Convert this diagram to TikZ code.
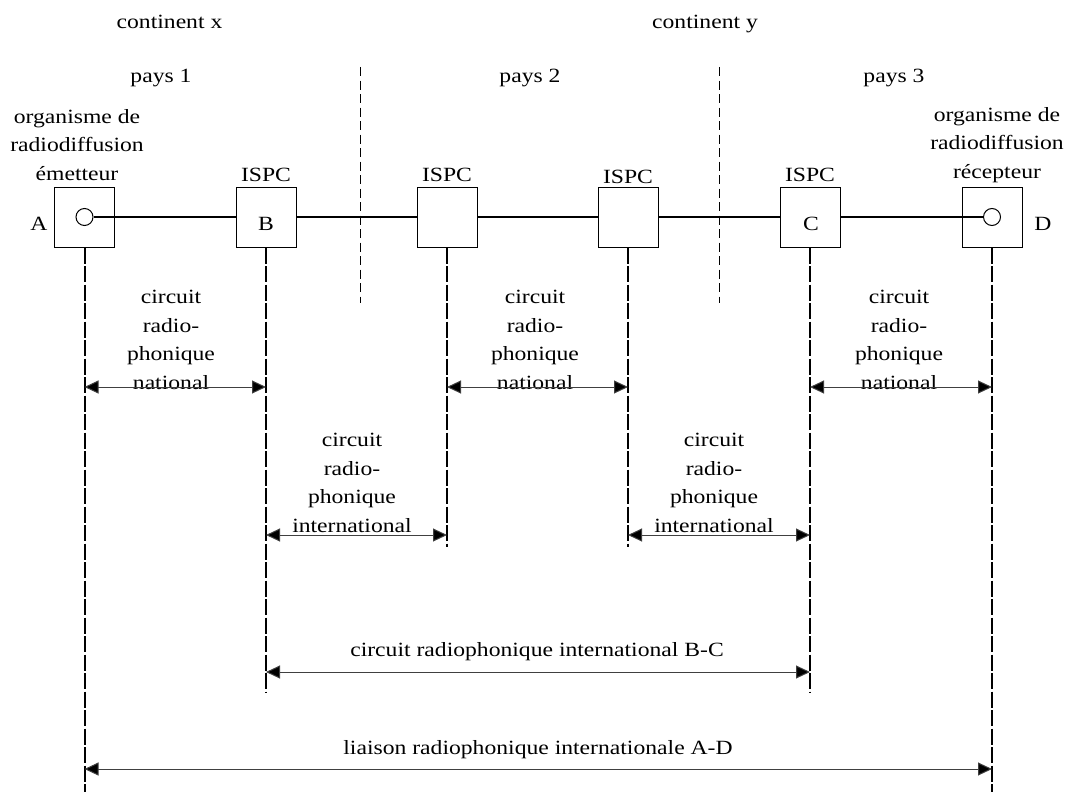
\documentclass[tikz,border=0pt]{standalone}
\usepackage{fontspec}
\setmainfont{Liberation Serif}[FakeStretch=1.17]
\usetikzlibrary{arrows.meta}
\begin{document}
\begin{tikzpicture}[x=1pt,y=-1pt,
  font=\fontsize{20.2}{28.7}\selectfont,
  txt/.style={inner sep=0pt, align=center},
  station/.style={draw, line width=1pt, minimum width=60pt, minimum height=60pt, inner sep=0pt},
  hole/.style={draw, line width=1pt, circle, minimum size=17pt, inner sep=0pt, fill=white},
  link/.style={line width=2pt},
  drop/.style={line width=2pt, dash pattern=on 16pt off 2.5pt},
  border/.style={line width=0.8pt, dash pattern=on 9pt off 4.5pt},
  span/.style={line width=1pt, draw=black!75, {Triangle[length=14pt,width=13pt,fill=black]}-{Triangle[length=14pt,width=13pt,fill=black]}}
]
\useasboundingbox (0,0) rectangle (1068,792);

% country borders
\coordinate (s1t) at (360,67); \coordinate (s1b) at (360,303);
\coordinate (s2t) at (719,67); \coordinate (s2b) at (719,303);
\draw[border] (s1t) -- (s1b);
\draw[border] (s2t) -- (s2b);

% headings
\node[txt, anchor=base] (cx) at (169.5,29) {continent x};
\node[txt, anchor=base] (cy) at (705,29) {continent y};
\node[txt, anchor=base] (p1) at (161,82) {pays 1};
\node[txt, anchor=base] (p2) at (530,82) {pays 2};
\node[txt, anchor=base] (p3) at (894,82) {pays 3};

% stations
\node[station] (a) at (84.5,217) {};
\node[station] (b) at (266,217) {};
\node[station] (i2) at (447,217) {};
\node[station] (i3) at (628,217) {};
\node[station] (c) at (810,217) {};
\node[station] (d) at (992,217) {};
\node[hole] (ha) at (84.5,217) {};
\node[hole] (hd) at (992,217) {};

\node[txt] (la) at (39,224) {A};
\node[txt] (lb) at (266,224) {B};
\node[txt] (lc) at (811,224) {C};
\node[txt] (ld) at (1043,224) {D};

\node[txt] (ta) at (77,145) {organisme de\\radiodiffusion\\émetteur};
\node[txt] (td) at (997,145) {organisme de\\radiodiffusion\\récepteur};
\node[txt] (tb) at (266,175) {ISPC};
\node[txt] (t2) at (447,175) {ISPC};
\node[txt] (t3) at (628,177) {ISPC};
\node[txt] (tc) at (810,175) {ISPC};

% chain
\draw[link] (ha.east) -- (b.west);
\draw[link] (b.east) -- (i2.west);
\draw[link] (i2.east) -- (i3.west);
\draw[link] (i3.east) -- (c.west);
\draw[link] (c.east) -- (hd.west);

% drop lines
\coordinate (ae) at (84.5,792);
\coordinate (be) at (266,693);
\coordinate (i2e) at (447,547);
\coordinate (i3e) at (628,547);
\coordinate (ce) at (810,693);
\coordinate (de) at (992,792);
\draw[drop] (a.south) -- (ae);
\draw[drop] (b.south) -- (be);
\draw[drop] (i2.south) -- (i2e);
\draw[drop] (i3.south) -- (i3e);
\draw[drop] (c.south) -- (ce);
\draw[drop] (d.south) -- (de);

% spans
\coordinate (n1l) at (84.5,387); \coordinate (n1r) at (266,387);
\coordinate (n2l) at (447,387); \coordinate (n2r) at (628,387);
\coordinate (n3l) at (810,387); \coordinate (n3r) at (992,387);
\coordinate (x1l) at (266,535); \coordinate (x1r) at (447,535);
\coordinate (x2l) at (628,535); \coordinate (x2r) at (810,535);
\coordinate (bcl) at (266,672); \coordinate (bcr) at (810,672);
\coordinate (adl) at (84.5,769); \coordinate (adr) at (992,769);

\node[txt] (ln1) at (171,340) {circuit\\radio-\\phonique\\national};
\node[txt] (ln2) at (535,340) {circuit\\radio-\\phonique\\national};
\node[txt] (ln3) at (899,340) {circuit\\radio-\\phonique\\national};
\node[txt] (lx1) at (352,483) {circuit\\radio-\\phonique\\international};
\node[txt] (lx2) at (714,483) {circuit\\radio-\\phonique\\international};
\node[txt] (lbc) at (537,652) {circuit radiophonique international B-C};
\node[txt] (lad) at (538,750) {liaison radiophonique internationale A-D};

\draw[span] (n1l) -- (n1r);
\draw[span] (n2l) -- (n2r);
\draw[span] (n3l) -- (n3r);
\draw[span] (x1l) -- (x1r);
\draw[span] (x2l) -- (x2r);
\draw[span] (bcl) -- (bcr);
\draw[span] (adl) -- (adr);
\end{tikzpicture}
\end{document}
